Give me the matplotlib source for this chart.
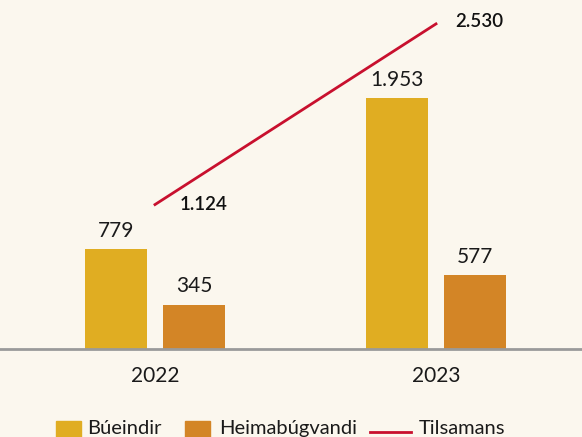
import matplotlib.pyplot as plt
import numpy as np
from matplotlib.lines import Line2D
from matplotlib.patches import Rectangle

# data
years = ['2022', '2023']
bueindir = [779, 1953]
heimabugvandi = [345, 577]
tilsamans = [1124, 2530]
legend_labels = ['Búeindir', 'Heimabúgvandi', 'Tilsamans']

bg = '#fbf7ee'
c_bue = '#e0ad22'
c_heim = '#d38526'
c_line = '#c8102e'

plt.rcParams['font.family'] = ['Lato', 'DejaVu Sans']

W, H = 582, 437
fig = plt.figure(figsize=(W / 100, H / 100), dpi=100, facecolor=bg)
ax = fig.add_axes([0, 88 / H, 1, 349 / H])
ax.set_facecolor(bg)

x = np.arange(len(years))
w = 0.22
off = 0.14

b1 = ax.bar(x - off, bueindir, w, color=c_bue)
b2 = ax.bar(x + off, heimabugvandi, w, color=c_heim)
ax.plot(x, tilsamans, color=c_line, lw=2)


def fmt(v):
    return f"{v:,}".replace(",", ".")


for bars, vals in [(b1, bueindir), (b2, heimabugvandi)]:
    for r, v in zip(bars, vals):
        ax.annotate(fmt(v), (r.get_x() + r.get_width() / 2, v),
                    xytext=(0, 6), textcoords='offset points',
                    ha='center', va='bottom', fontsize=15, color='#1a1a1a')

line_offsets = [(18, 0), (14, 2)]
for xi, v, o in zip(x, tilsamans, line_offsets):
    ax.annotate(fmt(v), (xi, v), xytext=o, textcoords='offset points',
                ha='left', va='center', fontsize=13.5, color='#111111',
                fontweight='semibold')

ax.set_xlim(-0.5516, 1.5196)
ax.set_ylim(0, 2716)
ax.set_yticks([])
ax.set_xticks(x)
ax.set_xticklabels(years, fontsize=15, color='#1a1a1a')
ax.tick_params(axis='x', length=0, pad=12)
for s in ['top', 'right', 'left']:
    ax.spines[s].set_visible(False)
ax.spines['bottom'].set_color('#9a9a9a')
ax.spines['bottom'].set_linewidth(2)

# legend drawn by hand (squares are shorter than the line key)
tf = fig.transFigure
fig.add_artist(Rectangle((56 / W, 0), 25 / W, 16 / H, color=c_bue, transform=tf))
fig.add_artist(Rectangle((185 / W, 0), 25 / W, 16 / H, color=c_heim, transform=tf))
fig.add_artist(Line2D([370 / W, 411 / W], [5 / H, 5 / H], color=c_line, lw=2,
                      transform=tf))
for tx, lab in zip([87, 219, 419], legend_labels):
    fig.text(tx / W, 3 / H, lab, fontsize=14.5, color='#1a1a1a',
             ha='left', va='baseline')

fig.savefig('out.png', dpi=100, facecolor=bg)
